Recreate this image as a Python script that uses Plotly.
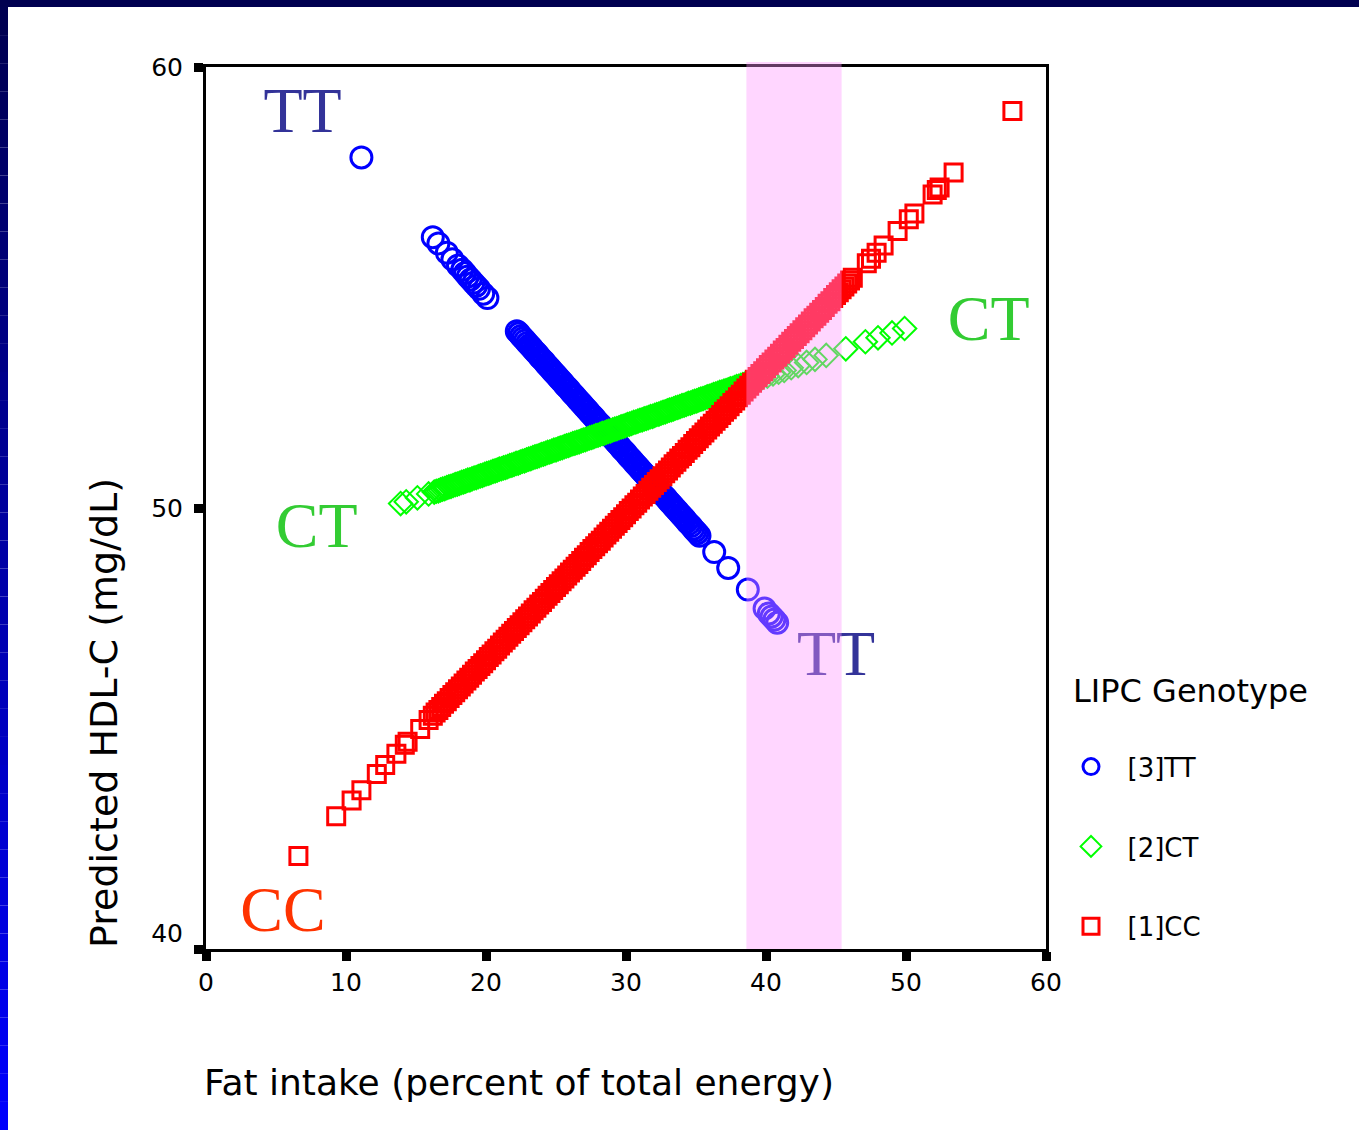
import plotly.graph_objects as go

# ---------------- DATA ----------------
genotypes = ["[3]TT", "[2]CT", "[1]CC"]

tt_fat = [11.1, 16.2, 16.6, 17.2, 17.6, 18.0, 18.3, 18.5, 18.7, 18.9, 19.1, 19.3, 19.5, 19.8, 20.1,
          22.20, 22.35, 22.50, 22.65, 22.80, 22.95, 23.10, 23.25, 23.40, 23.55, 23.70, 23.85, 24.00, 24.15,
          24.30, 24.45, 24.60, 24.75, 24.90, 25.05, 25.20, 25.35, 25.50, 25.65, 25.80, 25.95, 26.10, 26.25,
          26.40, 26.55, 26.70, 26.85, 27.00, 27.15, 27.30, 27.45, 27.60, 27.75, 27.90, 28.05, 28.20, 28.35,
          28.50, 28.65, 28.80, 28.95, 29.10, 29.25, 29.40, 29.55, 29.70, 29.85, 30.00, 30.15, 30.30, 30.45,
          30.60, 30.75, 30.90, 31.05, 31.20, 31.35, 31.50, 31.65, 31.80, 31.95, 32.10, 32.25, 32.40, 32.55,
          32.70, 32.85, 33.00, 33.15, 33.30, 33.45, 33.60, 33.75, 33.90, 34.05, 34.20, 34.35, 34.50, 34.65,
          34.80, 34.95, 35.10, 35.25,
          36.3, 37.3, 38.7, 39.9, 40.2, 40.4, 40.6, 40.8]
tt_hdl = [57.95, 56.14, 56.00, 55.79, 55.64, 55.50, 55.40, 55.33, 55.25, 55.18, 55.11, 55.04, 54.97, 54.86, 54.76,
          54.01, 53.96, 53.90, 53.85, 53.80, 53.74, 53.69, 53.64, 53.58, 53.53, 53.48, 53.42, 53.37, 53.32,
          53.26, 53.21, 53.16, 53.10, 53.05, 53.00, 52.94, 52.89, 52.84, 52.78, 52.73, 52.68, 52.62, 52.57,
          52.52, 52.46, 52.41, 52.36, 52.30, 52.25, 52.20, 52.14, 52.09, 52.04, 51.98, 51.93, 51.88, 51.82,
          51.77, 51.72, 51.66, 51.61, 51.56, 51.50, 51.45, 51.40, 51.34, 51.29, 51.24, 51.18, 51.13, 51.08,
          51.02, 50.97, 50.92, 50.86, 50.81, 50.76, 50.70, 50.65, 50.60, 50.54, 50.49, 50.44, 50.38, 50.33,
          50.28, 50.23, 50.17, 50.12, 50.07, 50.01, 49.96, 49.91, 49.85, 49.80, 49.75, 49.69, 49.64, 49.59,
          49.53, 49.48, 49.43, 49.37,
          49.00, 48.64, 48.15, 47.72, 47.61, 47.54, 47.47, 47.40]

ct_fat = [13.9, 14.3, 15.1, 15.9,
          16.30, 16.45, 16.60, 16.75, 16.90, 17.05, 17.20, 17.35, 17.50, 17.65, 17.80, 17.95, 18.10, 18.25, 18.40,
          18.55, 18.70, 18.85, 19.00, 19.15, 19.30, 19.45, 19.60, 19.75, 19.90, 20.05, 20.20, 20.35, 20.50, 20.65,
          20.80, 20.95, 21.10, 21.25, 21.40, 21.55, 21.70, 21.85, 22.00, 22.15, 22.30, 22.45, 22.60, 22.75, 22.90,
          23.05, 23.20, 23.35, 23.50, 23.65, 23.80, 23.95, 24.10, 24.25, 24.40, 24.55, 24.70, 24.85, 25.00, 25.15,
          25.30, 25.45, 25.60, 25.75, 25.90, 26.05, 26.20, 26.35, 26.50, 26.65, 26.80, 26.95, 27.10, 27.25, 27.40,
          27.55, 27.70, 27.85, 28.00, 28.15, 28.30, 28.45, 28.60, 28.75, 28.90, 29.05, 29.20, 29.35, 29.50, 29.65,
          29.80, 29.95, 30.10, 30.25, 30.40, 30.55, 30.70, 30.85, 31.00, 31.15, 31.30, 31.45, 31.60, 31.75, 31.90,
          32.05, 32.20, 32.35, 32.50, 32.65, 32.80, 32.95, 33.10, 33.25, 33.40, 33.55, 33.70, 33.85, 34.00, 34.15,
          34.30, 34.45, 34.60, 34.75, 34.90, 35.05, 35.20, 35.35, 35.50, 35.65, 35.80, 35.95, 36.10, 36.25, 36.40,
          36.55, 36.70, 36.85, 37.00, 37.15, 37.30, 37.45, 37.60, 37.75, 37.90, 38.05, 38.20, 38.35, 38.50,
          38.8, 39.1, 39.4, 39.7, 40.1, 40.5, 40.9, 41.3, 41.8, 42.3, 42.9, 43.5, 44.3,
          45.7, 47.1, 48.0, 49.0, 49.9]
ct_hdl = [50.10, 50.14, 50.23, 50.32,
          50.36, 50.38, 50.39, 50.41, 50.43, 50.44, 50.46, 50.48, 50.49, 50.51, 50.53, 50.54, 50.56, 50.58, 50.59,
          50.61, 50.63, 50.64, 50.66, 50.68, 50.69, 50.71, 50.73, 50.74, 50.76, 50.78, 50.79, 50.81, 50.83, 50.84,
          50.86, 50.88, 50.89, 50.91, 50.92, 50.94, 50.96, 50.97, 50.99, 51.01, 51.02, 51.04, 51.06, 51.07, 51.09,
          51.11, 51.12, 51.14, 51.16, 51.17, 51.19, 51.21, 51.22, 51.24, 51.26, 51.27, 51.29, 51.31, 51.32, 51.34,
          51.36, 51.37, 51.39, 51.41, 51.42, 51.44, 51.46, 51.47, 51.49, 51.50, 51.52, 51.54, 51.55, 51.57, 51.59,
          51.60, 51.62, 51.64, 51.65, 51.67, 51.69, 51.70, 51.72, 51.74, 51.75, 51.77, 51.79, 51.80, 51.82, 51.84,
          51.85, 51.87, 51.89, 51.90, 51.92, 51.94, 51.95, 51.97, 51.99, 52.00, 52.02, 52.03, 52.05, 52.07, 52.08,
          52.10, 52.12, 52.13, 52.15, 52.17, 52.18, 52.20, 52.22, 52.23, 52.25, 52.27, 52.28, 52.30, 52.32, 52.33,
          52.35, 52.37, 52.38, 52.40, 52.42, 52.43, 52.45, 52.47, 52.48, 52.50, 52.52, 52.53, 52.55, 52.57, 52.58,
          52.60, 52.62, 52.63, 52.65, 52.66, 52.68, 52.70, 52.71, 52.73, 52.75, 52.76, 52.78, 52.80, 52.81,
          52.85, 52.88, 52.91, 52.95, 52.99, 53.04, 53.08, 53.12, 53.18, 53.23, 53.30, 53.37, 53.46,
          53.61, 53.77, 53.86, 53.97, 54.07]

cc_fat = [6.6, 9.3, 10.4, 11.1, 12.2, 12.8, 13.6, 14.2, 14.4, 15.3, 15.9,
          16.2, 16.4, 16.6, 16.8, 17.0, 17.2, 17.4, 17.6, 17.8, 18.0, 18.2, 18.4, 18.6, 18.8, 19.0, 19.2,
          19.4, 19.6, 19.8, 20.0, 20.2, 20.4, 20.6, 20.8, 21.0, 21.2, 21.4, 21.6, 21.8, 22.0, 22.2, 22.4,
          22.6, 22.8, 23.0, 23.2, 23.4, 23.6, 23.8, 24.0, 24.2, 24.4, 24.6, 24.8, 25.0, 25.2, 25.4, 25.6,
          25.8, 26.0, 26.2, 26.4, 26.6, 26.8, 27.0, 27.2, 27.4, 27.6, 27.8, 28.0, 28.2, 28.4, 28.6, 28.8,
          29.0, 29.2, 29.4, 29.6, 29.8, 30.0, 30.2, 30.4, 30.6, 30.8, 31.0, 31.2, 31.4, 31.6, 31.8, 32.0,
          32.2, 32.4, 32.6, 32.8, 33.0, 33.2, 33.4, 33.6, 33.8, 34.0, 34.2, 34.4, 34.6, 34.8, 35.0, 35.2,
          35.4, 35.6, 35.8, 36.0, 36.2, 36.4, 36.6, 36.8, 37.0, 37.2, 37.4, 37.6, 37.8, 38.0, 38.2, 38.4,
          38.6, 38.8, 39.0, 39.2, 39.4, 39.6, 39.8, 40.0, 40.2, 40.4, 40.6, 40.8, 41.0, 41.2, 41.4, 41.6,
          41.8, 42.0, 42.2, 42.4, 42.6, 42.8, 43.0, 43.2, 43.4, 43.6, 43.8, 44.0, 44.2, 44.4, 44.6, 44.8,
          45.0, 45.2, 45.4, 45.6, 45.8, 46.0, 46.2,
          47.2, 47.5, 47.9, 48.4, 49.4, 50.2, 50.6, 51.9, 52.2, 52.4, 53.4, 57.6]
cc_hdl = [42.11, 43.01, 43.37, 43.60, 43.97, 44.17, 44.43, 44.63, 44.70, 44.99, 45.19,
          45.29, 45.36, 45.42, 45.49, 45.56, 45.62, 45.69, 45.76, 45.82, 45.89, 45.95, 46.02, 46.09, 46.15, 46.22, 46.29,
          46.35, 46.42, 46.48, 46.55, 46.62, 46.68, 46.75, 46.81, 46.88, 46.95, 47.01, 47.08, 47.15, 47.21, 47.28, 47.34,
          47.41, 47.48, 47.54, 47.61, 47.68, 47.74, 47.81, 47.87, 47.94, 48.01, 48.07, 48.14, 48.21, 48.27, 48.34, 48.40,
          48.47, 48.54, 48.60, 48.67, 48.73, 48.80, 48.87, 48.93, 49.00, 49.07, 49.13, 49.20, 49.26, 49.33, 49.40, 49.46,
          49.53, 49.60, 49.66, 49.73, 49.79, 49.86, 49.93, 49.99, 50.06, 50.12, 50.19, 50.26, 50.32, 50.39, 50.46, 50.52,
          50.59, 50.65, 50.72, 50.79, 50.85, 50.92, 50.99, 51.05, 51.12, 51.18, 51.25, 51.32, 51.38, 51.45, 51.52, 51.58,
          51.65, 51.71, 51.78, 51.85, 51.91, 51.98, 52.04, 52.11, 52.18, 52.24, 52.31, 52.38, 52.44, 52.51, 52.57, 52.64,
          52.71, 52.77, 52.84, 52.91, 52.97, 53.04, 53.10, 53.17, 53.24, 53.30, 53.37, 53.43, 53.50, 53.57, 53.63, 53.70,
          53.77, 53.83, 53.90, 53.96, 54.03, 54.10, 54.16, 54.23, 54.30, 54.36, 54.43, 54.49, 54.56, 54.63, 54.69, 54.76,
          54.83, 54.89, 54.96, 55.02, 55.09, 55.16, 55.22,
          55.55, 55.65, 55.79, 55.95, 56.28, 56.55, 56.68, 57.11, 57.21, 57.27, 57.61, 59.00]

# highlighted fat-intake range (shaded band)
band_range = [38.6, 45.4]

# in-plot genotype labels
label_text = ["TT", "TT", "CT", "CT", "CC", "CC"]
label_fat = [6.9, 45.0, 7.9, 55.9, 5.5, 63.8]
label_hdl = [58.9, 46.58, 49.48, 54.17, 40.77, 59.64]
label_color = ["#333399", "#333399", "#33CC33", "#33CC33", "#FF3300", "#FF3300"]

x_ticks = [0, 10, 20, 30, 40, 50, 60]
y_ticks = [40, 50, 60]
y_tick_text = ["40<br> ", "50", "60"]

# ---------------- FIGURE ----------------
W, H = 1359, 1130
L, R, T, B = 206, 313, 67, 181
pw, ph = W - L - R, H - T - B

def px_x(p):
    return (p - L) / pw

def px_y(q):
    return (H - B - q) / ph

fig = go.Figure()

fig.add_trace(go.Scatter(
    x=tt_fat, y=tt_hdl, mode="markers", name="\u00a0\u00a0" + genotypes[0], legendgroup="tt",
    marker=dict(symbol="circle-open", size=21, color="#0000FF", line=dict(width=3, color="#0000FF")),
    cliponaxis=False, hoverinfo="skip"))
fig.add_trace(go.Scatter(
    x=ct_fat, y=ct_hdl, mode="markers", name="\u00a0\u00a0" + genotypes[1], legendgroup="ct",
    marker=dict(symbol="diamond-open", size=18, color="#00FF00", line=dict(width=2, color="#00FF00")),
    cliponaxis=False, hoverinfo="skip"))
fig.add_trace(go.Scatter(
    x=cc_fat, y=cc_hdl, mode="markers", name="\u00a0\u00a0" + genotypes[2], legendgroup="cc",
    marker=dict(symbol="square-open", size=17, color="#FF0000", line=dict(width=3, color="#FF0000")),
    cliponaxis=False, hoverinfo="skip"))

fig.add_trace(go.Scatter(
    x=label_fat, y=label_hdl, mode="text", text=label_text, showlegend=False,
    textfont=dict(family="Liberation Serif", size=64, color=label_color),
    textposition="middle center", cliponaxis=False, hoverinfo="skip"))

shapes = []
# shaded band
shapes.append(dict(type="rect", xref="x", yref="paper", x0=band_range[0], x1=band_range[1],
                   y0=0, y1=px_y(62), fillcolor="rgba(255,149,255,0.39)", line=dict(width=0),
                   layer="above"))
# dark frame: top bar
shapes.append(dict(type="rect", xref="paper", yref="paper", x0=px_x(0), x1=px_x(W),
                   y0=px_y(7), y1=px_y(0), fillcolor="#000050", line=dict(width=0), layer="below"))
# left bar with vertical gradient navy -> blue
n = 40
for i in range(n):
    q0 = 7 + (H - 7) * i / n
    q1 = 7 + (H - 7) * (i + 1) / n
    t = (i + 0.5) / n
    b = int(80 + (255 - 80) * t)
    shapes.append(dict(type="rect", xref="paper", yref="paper", x0=px_x(0), x1=px_x(8),
                       y0=px_y(q1), y1=px_y(q0), fillcolor=f"rgb(0,0,{b})",
                       line=dict(width=0), layer="below"))

annotations = [
    dict(text="Fat intake (percent of total energy)", xref="paper", yref="paper",
         x=px_x(519), y=px_y(1082), xanchor="center", yanchor="middle", showarrow=False,
         font=dict(family="DejaVu Sans", size=36, color="black")),
    dict(text="Predicted HDL-C (mg/dL)", xref="paper", yref="paper", textangle=-90,
         x=px_x(104), y=px_y(713), xanchor="center", yanchor="middle", showarrow=False,
         font=dict(family="DejaVu Sans", size=38, color="black")),
]

fig.update_layout(
    width=W, height=H,
    margin=dict(l=L, r=R, t=T, b=B, pad=0),
    paper_bgcolor="white", plot_bgcolor="white",
    shapes=shapes, annotations=annotations,
    showlegend=True,
    legend=dict(
        title=dict(text="LIPC Genotype<br> ", font=dict(family="DejaVu Sans", size=32, color="black")),
        font=dict(family="DejaVu Sans", size=26, color="black"),
        x=px_x(1071), y=px_y(660), xanchor="left", yanchor="top",
        bgcolor="rgba(0,0,0,0)", borderwidth=0,
        tracegroupgap=43, itemsizing="trace",
    ),
    xaxis=dict(range=[0, 60], tickvals=x_ticks, ticktext=[str(v) for v in x_ticks],
               showgrid=False, zeroline=False, showline=True, linecolor="black", linewidth=3,
               mirror=True, ticks="outside", ticklen=9, tickwidth=9, tickcolor="black",
               tickfont=dict(family="DejaVu Sans", size=25, color="black")),
    yaxis=dict(range=[40, 60], tickvals=y_ticks, ticktext=y_tick_text,
               showgrid=False, zeroline=False, showline=True, linecolor="black", linewidth=3,
               mirror=True, ticks="outside", ticklen=9, tickwidth=9, tickcolor="black",
               ticklabelstandoff=6,
               tickfont=dict(family="DejaVu Sans", size=25, color="black")),
)

fig.write_html("out.html", config={"displayModeBar": False},
               post_script="document.body.style.margin='0';")
